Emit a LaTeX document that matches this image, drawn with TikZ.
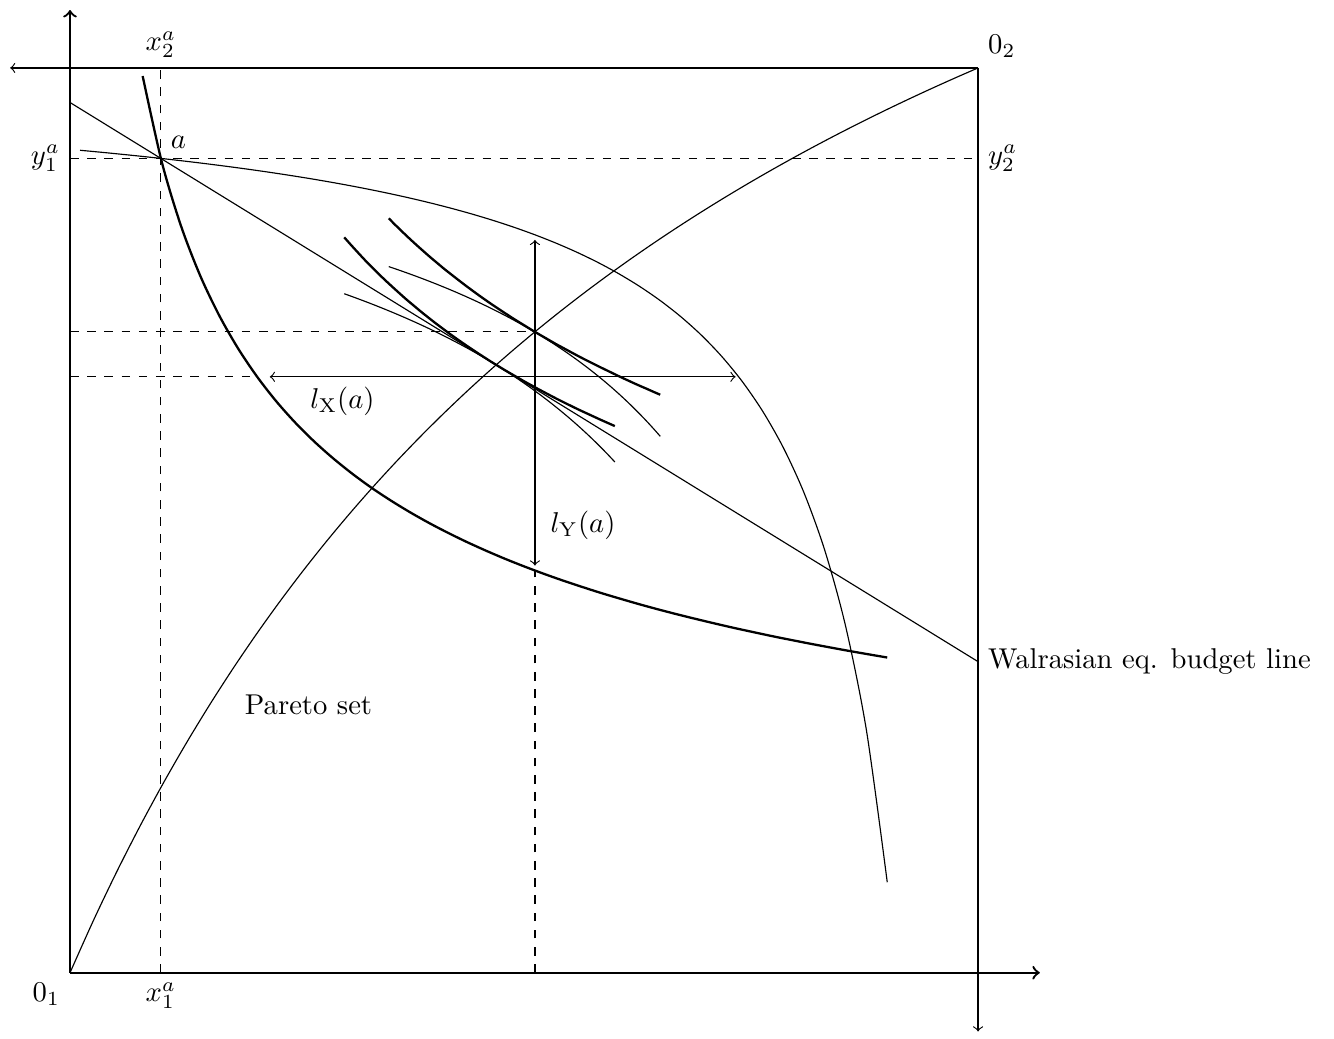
\documentclass[tikz,border=0pt]{standalone}
\newcommand{\indifA}[3]{\draw[indiff] plot[domain=#2:#3] (\x,{#1*(\x)^(-0.432)});}
\newcommand{\indifB}[3]{\draw[indiffthin] plot[domain=#2:#3] ({10-\x},{10-#1/\x});}
\begin{document}
\begin{tikzpicture}
    [x=1.114cm,y=1.110cm,
    axis/.style={thick,->},
    indiff/.style={thick,smooth,samples=40},
    indiffthin/.style={smooth,samples=40},
    guide/.style={dashed},
    gap/.style={<->},
    ]
    \useasboundingbox (-0.771,-0.729) rectangle (13.92,10.751);
    \coordinate (O1) at (0,0);
    \coordinate (O2) at (10,10);
    \coordinate (a) at (1,9);
    \coordinate (C) at (5.12,7.084);
    \coordinate (B1) at (0,9.618);
    \coordinate (B2) at (10,3.438);
    \coordinate (yend) at (0,10.64);
    \coordinate (xend) at (10.68,0);
    \coordinate (x2end) at (-0.66,10);
    \coordinate (y2end) at (10,-0.65);
    \coordinate (lxL) at (2.2,6.586);
    \coordinate (lxR) at (7.33,6.586);
    \coordinate (lyB) at (5.12,4.5);
    \coordinate (lyT) at (5.12,8.1);
    \draw[axis] (O1) -- (yend);
    \draw[axis] (O1) -- (xend);
    \draw[->] (O2) -- (x2end);
    \draw[->] (O2) -- (y2end);
    \draw[guide] (1,0) -- (1,10);
    \draw[guide] (0,9) -- (10,9);
    \draw[guide] (0,7.084) -- (C);
    \draw[guide] (0,6.586) -- (2.06,6.586);
    \draw[guide] (5.12,0) -- (5.12,4.45);
    \draw[gap] (lxL) -- (lxR);
    \draw[gap] (lyB) -- (lyT);
    \draw (B1) -- (B2);
    \draw plot[domain=0:10,smooth,samples=40] (\x,{10*\x/(4.32+0.568*\x)});
    \indifA{9}{0.8}{9}
    \indifA{14.34}{3.51}{6.5}
    \indifA{13.1}{3.02}{6}
    \indifB{9}{1}{9.89}
    \indifB{14.25}{3.5}{6.49}
    \indifB{17.42}{4}{6.98}
    \node[above] (x2a) at (1,10) {$x_2^a$};
    \node[above right] (o2) at (O2) {$0_2$};
    \node[above right] (la) at (a) {$a$};
    \node[left] (y1a) at (0,9) {$y_1^a$};
    \node[right] (y2a) at (10,9) {$y_2^a$};
    \node[below left] (o1) at (O1) {$0_1$};
    \node[below] (x1a) at (1,0) {$x_1^a$};
    \node[below] (lx) at (3.0,6.586) {$l_{\mathrm{X}}(a)$};
    \node (ly) at (5.65,4.95) {$l_{\mathrm{Y}}(a)$};
    \node[right] (wal) at (B2) {Walrasian eq. budget line};
    \node (pareto) at (2.627,2.961) {Pareto set};
\end{tikzpicture}
\end{document}
